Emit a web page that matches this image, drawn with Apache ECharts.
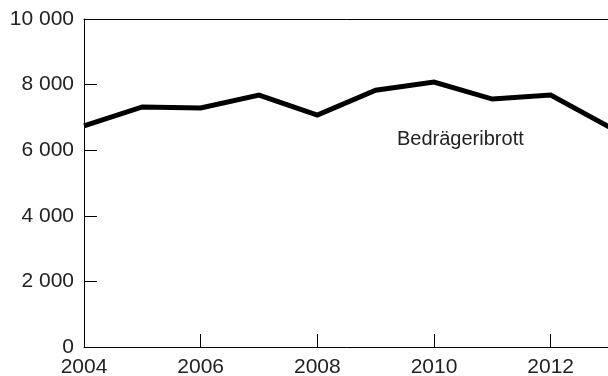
<!DOCTYPE html>
<html>
<head>
<meta charset="utf-8">
<script src="https://cdn.jsdelivr.net/npm/echarts@6/dist/echarts.min.js"></script>
<style>
  html, body { margin: 0; padding: 0; background: #fff; }
  #main { width: 608px; height: 376px; }
</style>
</head>
<body>
<div id="main"></div>
<script>
// år och antal bedrägeribrott
const years = ['2004', '2005', '2006', '2007', '2008', '2009', '2010', '2011', '2012', '2013'];
const bedrageri = [6740, 7320, 7290, 7680, 7070, 7830, 8080, 7560, 7680, 6710];
const seriesName = 'Bedrägeribrott';

const textFont = {fontFamily: 'Liberation Sans', fontSize: 21, color: '#222'};

// tusentalsavgränsare med mellanslag
const fmt = v => String(v).replace(/\B(?=(\d{3})+(?!\d))/g, ' ');

const chart = echarts.init(document.getElementById('main'));

chart.setOption({
    animation: false,
    grid: {left: 84, right: -1, top: 19, bottom: 29, outerBoundsMode: 'none'},
    xAxis: [
        {
            type: 'category',
            data: years,
            boundaryGap: false,
            axisLine: {lineStyle: {color: '#000', width: 1}},
            axisTick: {inside: true, length: 13, interval: 1, lineStyle: {color: '#000'}},
            axisLabel: Object.assign({interval: 1, margin: 10}, textFont),
            splitLine: {show: false}
        },
        {
            // bara toppkanten
            type: 'category',
            data: years,
            boundaryGap: false,
            position: 'top',
            axisLine: {lineStyle: {color: '#000', width: 1}},
            axisTick: {show: false},
            axisLabel: {show: false}
        }
    ],
    yAxis: {
        type: 'value',
        min: 0,
        max: 10000,
        interval: 2000,
        axisLine: {show: true, lineStyle: {color: '#000', width: 1}},
        axisTick: {show: true, inside: true, length: 13, lineStyle: {color: '#000'}},
        axisLabel: Object.assign({margin: 10, formatter: fmt}, textFont),
        splitLine: {show: false}
    },
    series: [{
        name: seriesName,
        type: 'line',
        data: bedrageri,
        showSymbol: false,
        lineStyle: {color: '#000', width: 5, join: 'miter'},
        clip: true
    }],
    graphic: [{
        type: 'text',
        left: 397,
        top: 129,
        style: {text: seriesName, font: '20px "Liberation Sans"', fill: '#222'}
    }]
});
</script>
</body>
</html>
